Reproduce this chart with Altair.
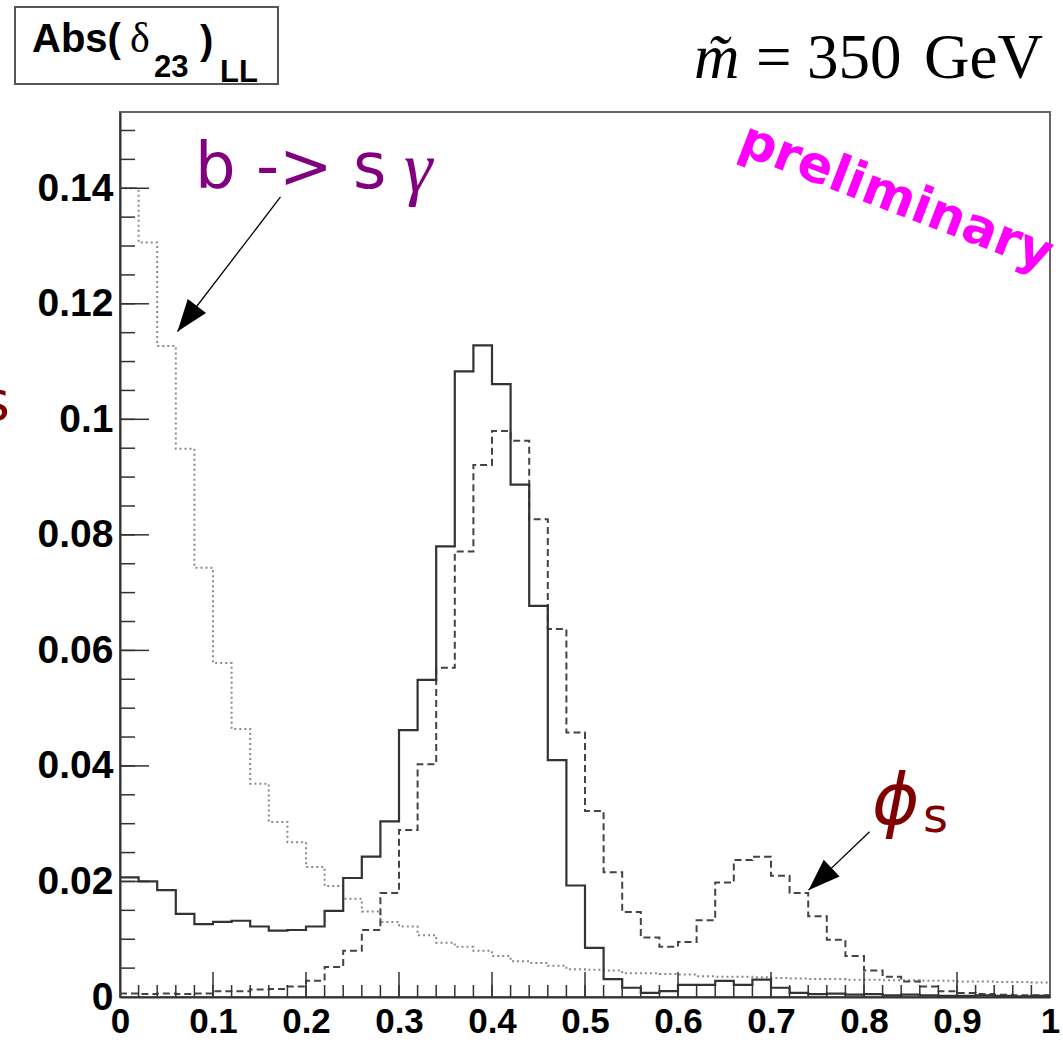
import altair as alt
import pandas as pd

# ---------------- data (bin contents, 50 bins of width 0.02 on [0,1]) ----------------
solid_vals = [0.0207, 0.0200, 0.0185, 0.0144, 0.0126, 0.0130, 0.0132, 0.0122, 0.0115, 0.0116,
              0.0122, 0.0149, 0.0206, 0.0243, 0.0304, 0.0462, 0.0549, 0.0780, 0.1083, 0.1128,
              0.1061, 0.0887, 0.0677, 0.0410, 0.0193, 0.0085, 0.0031, 0.0016, 0.0007, 0.0010,
              0.0021, 0.0021, 0.0028, 0.0021, 0.0030, 0.0016, 0.0007, 0.0005, 0.0006, 0.0004,
              0.0005, 0.0003, 0.0004, 0.0003, 0.0002, 0.0002, 0.0003, 0.0002, 0.0001, 0.0002]

dashed_vals = [0.0006, 0.0005, 0.0006, 0.0005, 0.0006, 0.0010, 0.0010, 0.0013, 0.0014, 0.0018,
               0.0028, 0.0052, 0.0080, 0.0116, 0.0180, 0.0289, 0.0403, 0.0570, 0.0771, 0.0921,
               0.0980, 0.0963, 0.0827, 0.0637, 0.0458, 0.0322, 0.0216, 0.0147, 0.0103, 0.0087,
               0.0095, 0.0133, 0.0198, 0.0237, 0.0243, 0.0210, 0.0180, 0.0140, 0.0099, 0.0071,
               0.0046, 0.0035, 0.0027, 0.0018, 0.0010, 0.0007, 0.0005, 0.0004, 0.0003, 0.0003]

dotted_vals = [0.1400, 0.1306, 0.1127, 0.0949, 0.0743, 0.0578, 0.0464, 0.0369, 0.0303, 0.0268,
               0.0225, 0.0192, 0.0170, 0.0148, 0.0130, 0.0122, 0.0107, 0.0094, 0.0087, 0.0080,
               0.0071, 0.0062, 0.0059, 0.0054, 0.0048, 0.0047, 0.0046, 0.0041, 0.0041, 0.0040,
               0.0039, 0.0036, 0.0035, 0.0035, 0.0034, 0.0033, 0.0032, 0.0031, 0.0031, 0.0030,
               0.0030, 0.0029, 0.0029, 0.0028, 0.0028, 0.0027, 0.0027, 0.0026, 0.0026, 0.0025]

bin_width = 0.02
x_labels = [0, 0.1, 0.2, 0.3, 0.4, 0.5, 0.6, 0.7, 0.8, 0.9, 1]
y_labels = [0, 0.02, 0.04, 0.06, 0.08, 0.1, 0.12, 0.14]
x_minor_ticks = [round(i * 0.02, 2) for i in range(1, 50)]
x_major_ticks = [0.1, 0.2, 0.3, 0.4, 0.5, 0.6, 0.7, 0.8, 0.9]
y_minor_ticks = [round(i * 0.005, 3) for i in range(1, 31)]
y_major_ticks = [0.02, 0.04, 0.06, 0.08, 0.1, 0.12, 0.14]

# arrows (start -> tip, data coordinates)
arrows = pd.DataFrame({
    "x": [0.1726, 0.806], "y": [0.1385, 0.0286],
    "x2": [0.0618, 0.7403], "y2": [0.1152, 0.0185],
    "angle": [217.4, 226.5],
})

# ---------------- chart ----------------
W, H = 930, 885


def hist_df(vals):
    xs = [i * bin_width for i in range(len(vals))] + [1.0]
    ys = list(vals) + [vals[-1]]
    return pd.DataFrame({"x": xs, "y": ys})


xscale = alt.Scale(domain=[0, 1], nice=False, zero=False)
yscale = alt.Scale(domain=[0, 0.1532], nice=False, zero=False)

xaxis = alt.Axis(values=x_labels, format="~g", labelFont="Liberation Sans", labelFontWeight="bold",
                 labelFontSize=35, labelColor="black", ticks=False, tickSize=0, grid=False,
                 domain=True, domainColor="#333", domainWidth=2, labelPadding=7,
                 labelFlush=False, labelOverlap=False, title=None)
yaxis = alt.Axis(values=y_labels, format="~g", labelFont="Liberation Sans", labelFontWeight="bold",
                 labelFontSize=39, labelColor="black", ticks=False, tickSize=0, grid=False,
                 domain=True, domainColor="#333", domainWidth=2, labelPadding=7,
                 labelFlush=False, labelOverlap=False, title=None)

X = alt.X("x:Q", scale=xscale, axis=xaxis)
Y = alt.Y("y:Q", scale=yscale, axis=yaxis)

dotted = alt.Chart(hist_df(dotted_vals)).mark_line(
    interpolate="step-after", color="#8a8a8a", strokeWidth=2, strokeDash=[2, 3]
).encode(x=X, y=Y)
dashed = alt.Chart(hist_df(dashed_vals)).mark_line(
    interpolate="step-after", color="#444444", strokeWidth=2, strokeDash=[7, 4]
).encode(x=X, y=Y)
solid = alt.Chart(hist_df(solid_vals)).mark_line(
    interpolate="step-after", color="#333333", strokeWidth=2.2
).encode(x=X, y=Y)

# inward ROOT-style ticks
xt_minor = alt.Chart(pd.DataFrame({"x": x_minor_ticks})).mark_rule(color="#333", strokeWidth=1.5).encode(
    x=X, y=alt.value(H), y2=alt.value(H - 12))
xt_major = alt.Chart(pd.DataFrame({"x": x_major_ticks})).mark_rule(color="#333", strokeWidth=1.5).encode(
    x=X, y=alt.value(H), y2=alt.value(H - 25))
yt_minor = alt.Chart(pd.DataFrame({"y": y_minor_ticks})).mark_rule(color="#333", strokeWidth=1.5).encode(
    y=Y, x=alt.value(0), x2=alt.value(15))
yt_major = alt.Chart(pd.DataFrame({"y": y_major_ticks})).mark_rule(color="#333", strokeWidth=1.5).encode(
    y=Y, x=alt.value(0), x2=alt.value(29))

# arrows
arrow_lines = alt.Chart(arrows).mark_rule(color="black", strokeWidth=1.3).encode(
    x=X, y=Y, x2="x2:Q", y2="y2:Q")
head_shape = "M0,0 L0.72,2 L-0.72,2 Z"
arrow_heads = alt.layer(*[
    alt.Chart(arrows.iloc[[i]]).mark_point(shape=head_shape, size=1024, filled=True, color="black",
                                           opacity=1, angle=float(arrows["angle"].iloc[i])).encode(
        x=alt.X("x2:Q", scale=xscale, axis=xaxis), y=alt.Y("y2:Q", scale=yscale, axis=yaxis))
    for i in range(len(arrows))
])

one = pd.DataFrame({"d": [0]})


def txt(text, x, y, **kw):
    return alt.Chart(one).mark_text(text=text, align=kw.pop("align", "left"),
                                    baseline=kw.pop("baseline", "alphabetic"), **kw).encode(
        x=alt.value(x), y=alt.value(y))


# title box
box = alt.Chart(one).mark_rect(fill="white", stroke="#555", strokeWidth=2).encode(
    x=alt.value(-105), x2=alt.value(158), y=alt.value(-105), y2=alt.value(-28))
t_abs = txt("Abs(", -88, -60, font="Liberation Sans", fontWeight="bold", fontSize=40, color="black")
t_delta = txt("δ", 10, -60, font="Liberation Serif", fontSize=42, color="black")
t_23 = txt("23", 34, -35, font="Liberation Sans", fontWeight="bold", fontSize=31, color="black")
t_par = txt(")", 80, -58, font="Liberation Sans", fontWeight="bold", fontSize=40, color="black")
t_ll = txt("LL", 100, -30, font="Liberation Sans", fontWeight="bold", fontSize=31, color="black")

# mass label
t_m = txt("m̃", 574, -34, font="Liberation Serif", fontStyle="italic", fontSize=63, color="black")
t_eq = txt("=", 636, -34, font="Liberation Serif", fontSize=63, color="black")
t_350 = txt("350", 687, -34, font="Liberation Serif", fontSize=63, color="black")
t_gev = txt("GeV", 923, -34, font="Liberation Serif", fontSize=63, color="black", align="right")

# annotations
t_bsg = txt("b -> s", 75, 76, font="DejaVu Sans", fontSize=64, color="#800080")
t_gamma = txt("γ", 284, 80, font="Liberation Serif", fontStyle="italic", fontSize=72, color="#800080")
t_prelim = txt("preliminary", 776, 86, font="DejaVu Sans", fontWeight="bold", fontSize=51,
               color="#ff00ff", angle=21, align="center", baseline="middle")
t_phi = txt("ϕ", 752, 712, font="DejaVu Sans", fontStyle="italic", fontSize=72, color="#800000")
t_s = txt("s", 803, 720, font="DejaVu Sans", fontSize=48, color="#800000")
t_ytitle = txt("s", -110, 308, font="DejaVu Sans", fontSize=56, color="#800000", align="right")

chart = alt.layer(
    box, t_abs, t_delta, t_23, t_par, t_ll,
    t_m, t_eq, t_350, t_gev,
    dotted, dashed, solid,
    xt_minor, xt_major, yt_minor, yt_major,
    arrow_lines, arrow_heads,
    t_bsg, t_gamma, t_prelim, t_phi, t_s, t_ytitle,
).properties(
    width=W, height=H,
    padding={"left": 120, "top": 112, "right": 13, "bottom": 45},
    autosize=alt.AutoSizeParams(type="none"),
    background="white",
).configure_view(stroke="#666", strokeWidth=2)

chart.save("out.html", embed_options={"renderer": "svg", "actions": False})
